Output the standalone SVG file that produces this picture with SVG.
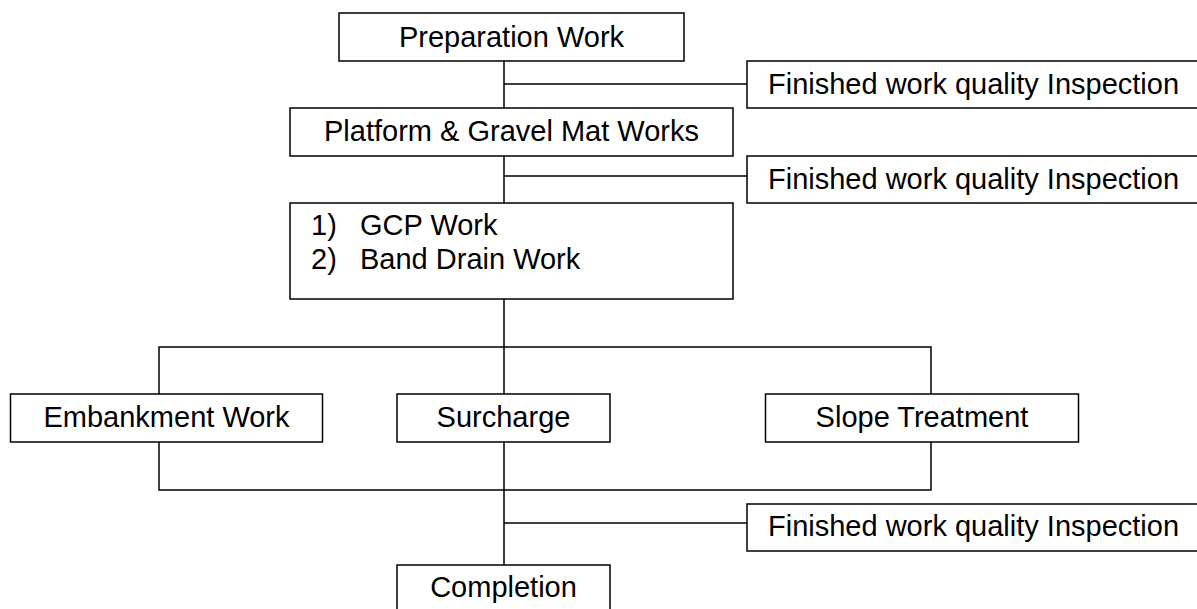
<svg xmlns="http://www.w3.org/2000/svg" width="1197" height="609" viewBox="0 0 1197 609">
  <style>
    .box { fill: #ffffff; stroke: #000000; stroke-width: 1.5; }
    .link { fill: none; stroke: #000000; stroke-width: 1.5; }
    .label { font-family: "Liberation Sans", Arial, sans-serif; font-size: 29px; fill: #000000; }
    .mid { text-anchor: middle; }
  </style>
  <rect width="1197" height="609" fill="#ffffff"/>

  <!-- connectors -->
  <g id="connectors">
    <!-- main trunk -->
    <line class="link" x1="504" y1="61" x2="504" y2="108"/>
    <line class="link" x1="504" y1="156" x2="504" y2="203"/>
    <line class="link" x1="504" y1="299" x2="504" y2="394"/>
    <line class="link" x1="504" y1="442" x2="504" y2="565"/>
    <!-- inspection taps -->
    <line class="link" x1="504" y1="84" x2="747" y2="84"/>
    <line class="link" x1="504" y1="176" x2="747" y2="176"/>
    <line class="link" x1="504" y1="523" x2="747" y2="523"/>
    <!-- fan-out to parallel works -->
    <polyline class="link" points="159,394 159,347 931,347 931,394"/>
    <!-- fan-in from parallel works -->
    <polyline class="link" points="159,442 159,490 931,490 931,442"/>
  </g>

  <g id="preparation">
    <rect class="box" x="339" y="13" width="345" height="48"/>
    <text class="label mid" x="511.5" y="47">Preparation Work</text>
  </g>

  <g id="inspection-1">
    <rect class="box" x="747" y="61" width="460" height="47"/>
    <text class="label" x="768" y="94">Finished work quality Inspection</text>
  </g>

  <g id="platform">
    <rect class="box" x="290" y="108" width="443" height="48"/>
    <text class="label mid" x="511.5" y="141">Platform &amp; Gravel Mat Works</text>
  </g>

  <g id="inspection-2">
    <rect class="box" x="747" y="156" width="460" height="47"/>
    <text class="label" x="768" y="189">Finished work quality Inspection</text>
  </g>

  <g id="gcp-band-drain">
    <rect class="box" x="290" y="203" width="443" height="96"/>
    <text class="label" x="311" y="235">1)</text>
    <text class="label" x="360" y="235">GCP Work</text>
    <text class="label" x="311" y="269">2)</text>
    <text class="label" x="360" y="269">Band Drain Work</text>
  </g>

  <g id="embankment">
    <rect class="box" x="10.5" y="394" width="312" height="48"/>
    <text class="label mid" x="166.5" y="427">Embankment Work</text>
  </g>

  <g id="surcharge">
    <rect class="box" x="397" y="394" width="213" height="48"/>
    <text class="label mid" x="503.5" y="427">Surcharge</text>
  </g>

  <g id="slope-treatment">
    <rect class="box" x="765.5" y="394" width="313" height="48"/>
    <text class="label mid" x="922" y="427">Slope Treatment</text>
  </g>

  <g id="inspection-3">
    <rect class="box" x="747" y="504" width="460" height="47"/>
    <text class="label" x="768" y="536">Finished work quality Inspection</text>
  </g>

  <g id="completion">
    <rect class="box" x="397" y="565" width="213" height="60"/>
    <text class="label mid" x="503.5" y="597">Completion</text>
  </g>
</svg>
